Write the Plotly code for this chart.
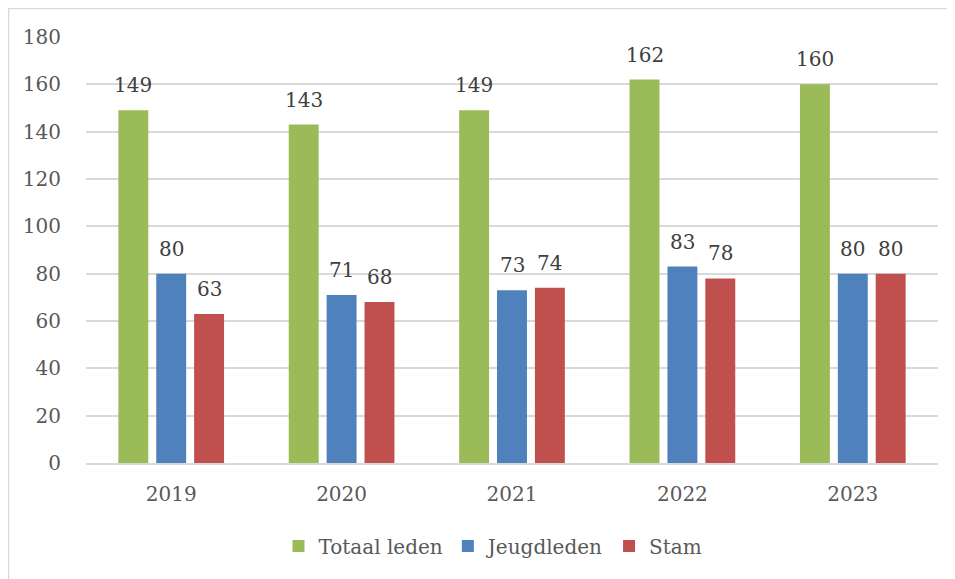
import plotly.graph_objects as go

years = ["2019", "2020", "2021", "2022", "2023"]
totaal = [149, 143, 149, 162, 160]
jeugd = [80, 71, 73, 83, 80]
stam = [63, 68, 74, 78, 80]
series_names = ["Totaal leden", "Jeugdleden", "Stam"]
colors = ["#9BBB59", "#4F81BD", "#C0504D"]
y_ticks = [0, 20, 40, 60, 80, 100, 120, 140, 160, 180]

FONT = "DejaVu Serif"
OFF = 8  # browser body margin
W, H = 955 - OFF, 579 - OFF
# plot area in page pixels: left 86, right 938, top 37, bottom 463
L, T = 86 - OFF, 37 - OFF
R = 955 - 938
B = 579 - 463
pw, ph = W - L - R, H - T - B
BARGAP, GROUPGAP = 0.333, 0.21

fig = go.Figure()
all_vals = [totaal, jeugd, stam]
for name, vals, col in zip(series_names, all_vals, colors):
    fig.add_trace(go.Bar(
        x=years, y=vals, name=name, marker=dict(color=col, line=dict(width=0)),
    ))

# data labels above bars (category index positions, shifted to each bar of the group)
slot = pw / len(years) * (1 - BARGAP) / len(series_names)
for i, vals in enumerate(all_vals):
    shift = (i - (len(series_names) - 1) / 2) * slot
    for j, v in enumerate(vals):
        fig.add_annotation(x=j, y=v, xref="x", yref="y", text=str(v), showarrow=False,
                           xanchor="center", yanchor="bottom", xshift=shift, yshift=11,
                           font=dict(family=FONT, size=20, color="#404040"))

def px_x(p):  # page px -> paper
    return (p - OFF - L) / pw

def px_y(p):
    return (H - B - (p - OFF)) / ph

fig.update_layout(
    width=W, height=H,
    margin=dict(l=L, r=R, t=T, b=B, autoexpand=False),
    paper_bgcolor="white", plot_bgcolor="white",
    barmode="group", bargap=BARGAP, bargroupgap=GROUPGAP,
    font=dict(family=FONT, color="#595959", size=20),
    showlegend=True,
    legend=dict(orientation="h", x=px_x(493), xanchor="center", y=px_y(546), yanchor="middle",
                font=dict(family=FONT, size=20, color="#595959"), itemwidth=30),
    xaxis=dict(type="category", range=[-0.5, len(years) - 0.5], showgrid=False,
               showline=True, linecolor="#D9D9D9",
               linewidth=1.5, ticks="", ticklabelstandoff=12,
               tickfont=dict(family=FONT, size=20, color="#595959")),
    yaxis=dict(range=[0, 180], tickvals=y_ticks, showgrid=True, gridcolor="#D9D9D9",
               gridwidth=1.5, zeroline=False, ticks="", ticklabelstandoff=24,
               tickfont=dict(family=FONT, size=20, color="#595959")),
)
fig.add_shape(type="rect", xref="paper", yref="paper",
              x0=px_x(8.5), x1=px_x(970), y0=px_y(600), y1=px_y(8.5),
              line=dict(color="#D9D9D9", width=1.5), layer="below")
fig.write_html("out.html")
